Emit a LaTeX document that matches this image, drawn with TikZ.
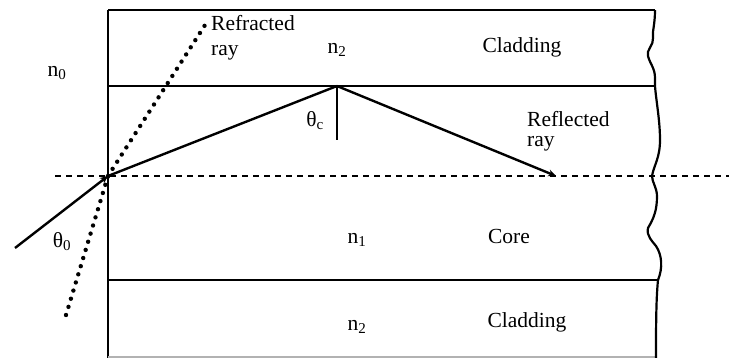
\documentclass[tikz,border=0pt]{standalone}
\usepackage{fontspec}
\setmainfont{Liberation Serif}
\usetikzlibrary{arrows.meta}
\begin{document}
\begin{tikzpicture}[x=1pt,y=-1pt,
  lbl/.style={font=\fontsize{21.5}{20}\selectfont, inner sep=0pt},
  border/.style={line width=2.2pt},
  ray/.style={line width=2.4pt},
  axis/.style={line width=2.2pt, dash pattern=on 6pt off 5pt},
  dotray/.style={line width=4.4pt, line cap=round, dash pattern=on 0pt off 8.5pt},
  tip/.style={-{Stealth[length=8pt,width=7pt]}}]
\useasboundingbox (0,0) rectangle (729,358);
% coordinates
\coordinate (TL) at (108,10);
\coordinate (ML) at (108,86);
\coordinate (CL) at (108,280);
\coordinate (BL) at (108,357);
\coordinate (E) at (108,176);
\coordinate (R) at (337,86);
\coordinate (N) at (337,140);
\coordinate (F) at (556,176);
\coordinate (S) at (15,248);
\coordinate (DU) at (207,22);
\coordinate (DD) at (66,315);
\coordinate (AL) at (55,176);
\coordinate (AR) at (729,176);
% borders
\draw[border] (TL) -- (108,358);
\draw[border] (TL) -- (655,10);
\draw[border] (ML) -- (655,86);
\draw[border] (CL) -- (658,280);
\draw[border, gray!60] (BL) -- (656,357);
% wavy right edge
\draw[border] (655,10) .. controls (655,25) and (652,32) .. (653,38)
  .. controls (654,45) and (646,50) .. (648,56)
  .. controls (650,64) and (655,68) .. (655,78)
  -- (655,86)
  .. controls (656,100) and (660,120) .. (660,140)
  .. controls (660,158) and (654,165) .. (652,176)
  .. controls (652,182) and (657,188) .. (657,196)
  .. controls (657,210) and (654,218) .. (648,228)
  .. controls (646,236) and (653,242) .. (656,246)
  .. controls (662,255) and (663,268) .. (658,280)
  .. controls (656,300) and (656,330) .. (656,358);
% axis
\draw[axis] (AL) -- (AR);
% rays
\draw[ray, tip] (S) -- (E);
\draw[ray] (E) -- (R);
\draw[ray, tip] (R) -- (F);
\draw[ray] (R) -- (N);
\draw[dotray] (DD) -- (E);
\draw[dotray] (E) -- (DU);
% labels
\node[lbl, anchor=base west, align=left, font=\fontsize{21.5}{25}\selectfont] (refr) at (211,56) {Refracted\\ray};
\node[lbl] (n2t) at (337,50) {n\textsubscript{2}};
\node[lbl] (n0) at (57,73) {n\textsubscript{0}};
\node[lbl] (tc) at (315,121) {θ\textsubscript{c}};
\node[lbl] (clt) at (522,47) {Cladding};
\node[lbl, anchor=base west, align=left] (refl) at (527,147) {Reflected\\ray};
\node[lbl] (t0) at (62,242) {θ\textsubscript{0}};
\node[lbl] (n1) at (357,240) {n\textsubscript{1}};
\node[lbl] (core) at (509,236) {Core};
\node[lbl] (n2b) at (357,327) {n\textsubscript{2}};
\node[lbl] (clb) at (527,322) {Cladding};
\end{tikzpicture}
\end{document}
